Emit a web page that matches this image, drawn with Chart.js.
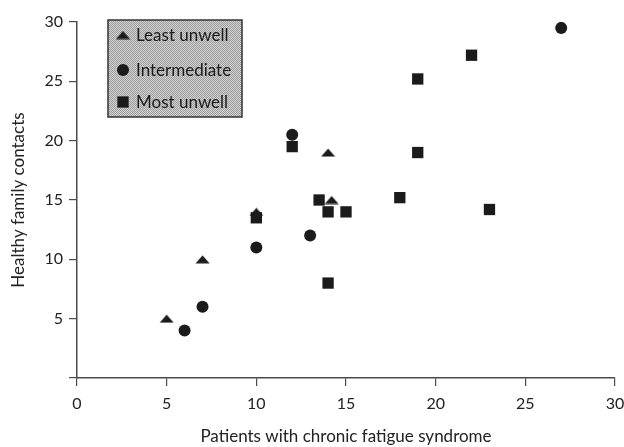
<!DOCTYPE html>
<html>
<head>
<meta charset="utf-8">
<script src="https://cdn.jsdelivr.net/npm/chart.js@4/dist/chart.umd.min.js"></script>
<style>
  html, body { margin: 0; padding: 0; background: #fff; }
</style>
</head>
<body>
<canvas id="scatterChart" width="624" height="447"></canvas>
<script>
Chart.defaults.font.family = 'Lato, "DejaVu Sans", sans-serif'
Chart.defaults.color = '#222'

// groups
const seriesNames = ['Least unwell', 'Intermediate', 'Most unwell']

const leastX = [5, 7, 10, 14, 14.2]
const leastY = [5, 10, 14, 19, 15]

const interX = [6, 7, 10, 12, 13, 27]
const interY = [4, 6, 11, 20.5, 12, 29.5]

const mostX = [12, 10, 13.5, 14, 15, 14, 18, 19, 19, 22, 23]
const mostY = [19.5, 13.5, 15, 14, 14, 8, 15.2, 25.2, 19, 27.2, 14.2]

const xTicks = [0, 5, 10, 15, 20, 25, 30]
const yTicks = [0, 5, 10, 15, 20, 25, 30]

const ink = '#1b1b1b'

// flattened triangle marker like the printed figure
const makeTriangle = () => {
    const c = document.createElement('canvas')
    c.width = 15
    c.height = 9
    const g = c.getContext('2d')
    g.fillStyle = ink
    g.beginPath()
    g.moveTo(7.5, 0.5)
    g.lineTo(14.5, 8.5)
    g.lineTo(0.5, 8.5)
    g.closePath()
    g.fill()
    return c
}
const triangleImg = makeTriangle()

const toPoints = (xs, ys) => xs.map((x, i) => ({ x, y: ys[i] }))

const markerStyles = [
    { pointStyle: triangleImg },
    { pointStyle: 'circle', pointRadius: 6 },
    { pointStyle: 'rect', pointRadius: 8 }
]

const stipple = ctx => {
    const c = document.createElement('canvas')
    c.width = 2
    c.height = 2
    const g = c.getContext('2d')
    g.fillStyle = '#d2d2d2'
    g.fillRect(0, 0, 2, 2)
    g.fillStyle = '#9c9c9c'
    g.fillRect(0, 0, 1, 1)
    g.fillRect(1, 1, 1, 1)
    return ctx.createPattern(c, 'repeat')
}

const drawMarker = (ctx, i, x, y) => {
    const s = markerStyles[i]
    if (s.pointStyle === triangleImg) {
        ctx.drawImage(triangleImg, x - 7.5, y - 4.5)
    } else {
        Chart.helpers.drawPoint(ctx, { pointStyle: s.pointStyle, radius: s.pointRadius, rotation: 0 }, x, y)
    }
}

const legendBox = {
    id: 'legendBox',
    afterDraw(chart) {
        const ctx = chart.ctx
        const left = chart.chartArea.left + 31
        const top = chart.chartArea.top - 2
        ctx.save()
        ctx.fillStyle = stipple(ctx)
        ctx.fillRect(left, top, 134, 97)
        ctx.strokeStyle = '#333'
        ctx.lineWidth = 1.5
        ctx.strokeRect(left, top, 134, 97)
        ctx.fillStyle = ink
        ctx.strokeStyle = ink
        ctx.lineWidth = 1
        ctx.font = '17px Lato, sans-serif'
        ctx.textBaseline = 'middle'
        const rows = [15, 50, 82]
        seriesNames.forEach((name, i) => {
            ctx.fillStyle = ink
            drawMarker(ctx, i, left + 15, top + rows[i])
            ctx.fillStyle = '#1a1a1a'
            ctx.fillText(name, left + 28, top + rows[i] + 1)
        })
        ctx.restore()
    }
}

const data = {
    datasets: seriesNames.map((name, i) => ({
        label: name,
        data: [toPoints(leastX, leastY), toPoints(interX, interY), toPoints(mostX, mostY)][i],
        backgroundColor: ink,
        borderColor: ink,
        borderWidth: 0,
        pointRadius: 7,
        ...markerStyles[i]
    }))
}

const axisLine = { display: true, color: '#4a4a4a', width: 1.5 }

const options = {
    responsive: false,
    animation: false,
    layout: { padding: { top: 22, right: 9, left: 0, bottom: 0 } },
    plugins: {
        legend: { display: false },
        tooltip: { enabled: false }
    },
    scales: {
        x: {
            type: 'linear',
            min: 0,
            max: 30,
            afterBuildTicks: axis => { axis.ticks = xTicks.map(v => ({ value: v })) },
            ticks: { font: { size: 16 }, padding: 8, maxRotation: 0, color: '#222' },
            grid: { display: true, drawOnChartArea: false, drawTicks: true, tickLength: 8, color: '#4a4a4a', lineWidth: 1.2 },
            border: axisLine,
            title: {
                display: true,
                text: 'Patients with chronic fatigue syndrome',
                font: { size: 17 },
                padding: { top: 0, bottom: 0 },
                color: '#222'
            },
            afterFit: scale => {
                scale.height = 69
                scale.paddingLeft = 0
                scale.paddingRight = 0
            }
        },
        y: {
            type: 'linear',
            min: 0,
            max: 30,
            afterBuildTicks: axis => { axis.ticks = yTicks.map(v => ({ value: v })) },
            ticks: {
                font: { size: 16 },
                padding: 6,
                color: '#222',
                callback: v => v === 0 ? '' : v
            },
            grid: { display: true, drawOnChartArea: false, drawTicks: true, tickLength: 8, color: '#4a4a4a', lineWidth: 1.2 },
            border: axisLine,
            title: {
                display: true,
                text: 'Healthy family contacts',
                font: { size: 17 },
                padding: { top: 8, bottom: 0 },
                color: '#222'
            },
            afterFit: scale => {
                scale.width = 77
                scale.paddingTop = 0
                scale.paddingBottom = 0
            }
        }
    }
}

new Chart('scatterChart', { type: 'scatter', data, options, plugins: [legendBox] })
</script>
</body>
</html>
